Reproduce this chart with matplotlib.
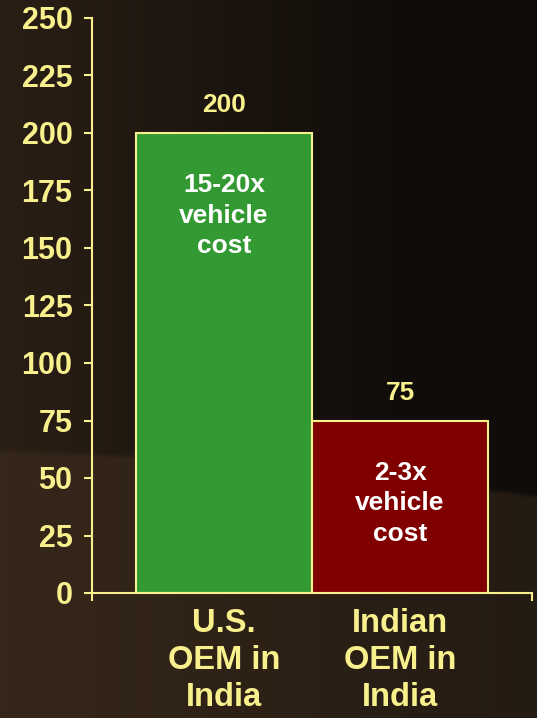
import numpy as np
import matplotlib
matplotlib.use("Agg")
import matplotlib.pyplot as plt

plt.rcParams['font.family'] = ['Liberation Sans', 'DejaVu Sans']

categories = ['U.S.\nOEM in\nIndia', 'Indian\nOEM in\nIndia']
values = [200, 75]
inner_labels = ['15-20x\nvehicle\ncost', '2-3x\nvehicle\ncost']
bar_colors = ['#339933', '#800000']

yellow = '#F8F08C'

fig = plt.figure(figsize=(5.37, 7.18), dpi=100)

# dark brown background, lighter "horizon" band near the bottom
bg = fig.add_axes([0, 0, 1, 1])
h, w = 718, 537
yy, xx = np.mgrid[0:h, 0:w].astype(float)
xn = xx / w
top_l = np.array([0x2a, 0x1f, 0x15]) / 255
top_r = np.array([0x10, 0x0c, 0x09]) / 255
low_l = np.array([0x36, 0x27, 0x1a]) / 255
low_r = np.array([0x24, 0x1b, 0x13]) / 255
tx = np.clip(xn * 1.3, 0, 1)[..., None]
upper = top_l * (1 - tx) + top_r * tx
lower = low_l * (1 - xn[..., None]) + low_r * xn[..., None]
edge = 448 + 45 * xn ** 1.5
m = np.clip((yy - edge) / 6, 0, 1)[..., None]
img = upper * (1 - m) + lower * m
bg.imshow(img, aspect='auto', extent=[0, 1, 0, 1], origin='upper')
bg.axis('off')

ax = fig.add_axes([92 / 537, 1 - 593 / 718, 440 / 537, 575 / 718])
ax.patch.set_alpha(0)

x = np.arange(len(values))
bars = ax.bar(x, values, width=1.0, color=bar_colors,
              edgecolor=yellow, linewidth=1.5)

for xi, v, lab in zip(x, values, inner_labels):
    ax.annotate(str(v), (xi, v), xytext=(0, 20), textcoords='offset points',
                ha='center', va='center', color=yellow,
                fontsize=19, fontweight='bold')
    ax.annotate(lab, (xi, v), xytext=(0, -59.5), textcoords='offset points',
                ha='center', va='center', color='white',
                fontsize=19, fontweight='bold', linespacing=1.34)

ax.set_xlim(-0.75, 1.75)
ax.set_ylim(0, 250)
ax.set_yticks(np.arange(0, 251, 25))
ax.set_xticks(x)
ax.set_xticklabels(categories, linespacing=1.25)
ax.set_xticks([-0.75, 1.75], minor=True)

for s in ['top', 'right']:
    ax.spines[s].set_visible(False)
for s in ['left', 'bottom']:
    ax.spines[s].set_color(yellow)
    ax.spines[s].set_linewidth(1.5)

ax.tick_params(axis='y', colors=yellow, labelsize=22, length=6, width=1.5,
               direction='out', pad=8)
ax.tick_params(axis='x', which='major', colors=yellow, labelsize=23.5,
               length=0, pad=10.5)
ax.tick_params(axis='x', which='minor', color=yellow, length=6, width=1.5,
               direction='out')
for lbl in ax.get_yticklabels() + ax.get_xticklabels():
    lbl.set_fontweight('bold')

fig.savefig('out.png', dpi=100)
